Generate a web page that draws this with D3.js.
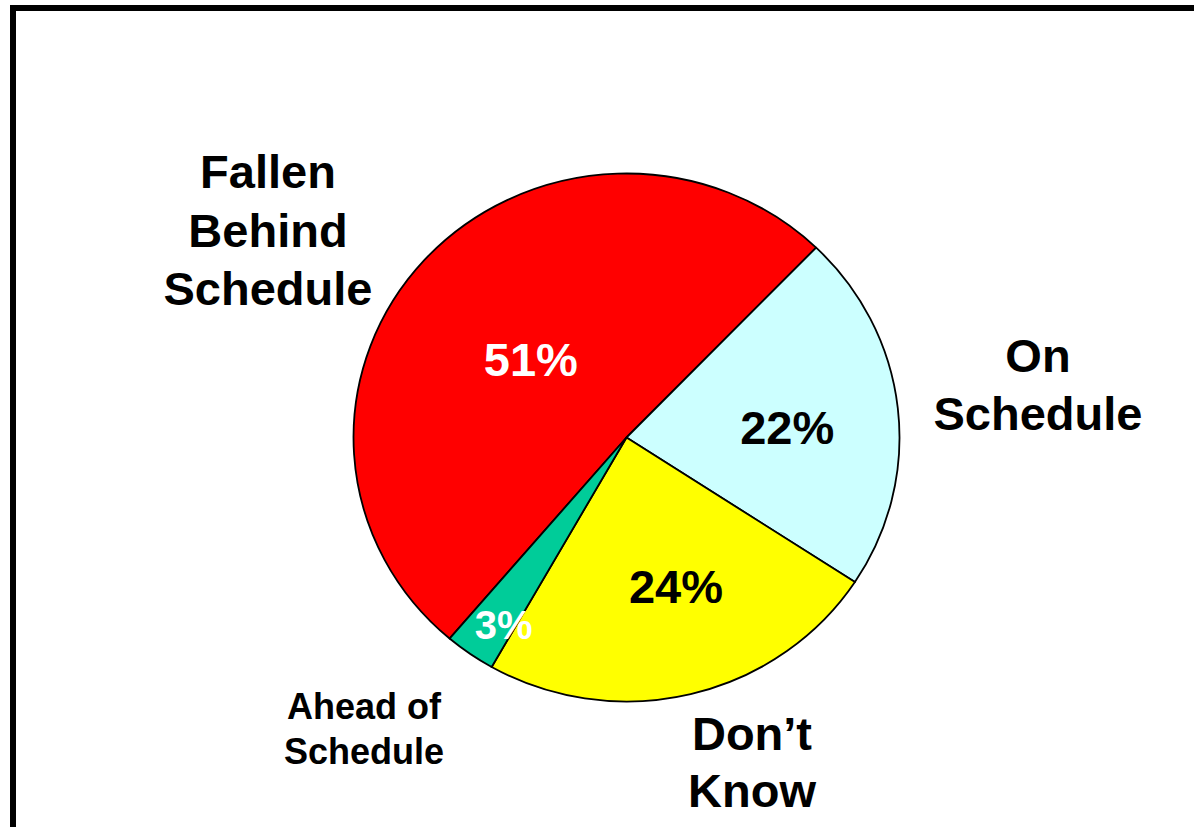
<!DOCTYPE html>
<html>
<head>
<meta charset="utf-8">
<script src="https://cdn.jsdelivr.net/npm/d3@7"></script>
<style>
  html, body { margin: 0; padding: 0; background: #fff; }
  svg { display: block; }
  text { font-family: "Liberation Sans", Arial, sans-serif; font-weight: bold; }
</style>
</head>
<body>
<svg id="chart" width="1194" height="827"></svg>
<script>
// Survey: status of projects relative to schedule
const categories = ["Fallen Behind Schedule", "On Schedule", "Don\u2019t Know", "Ahead of Schedule"];
const values = [51, 22, 24, 3];
const valueLabels = ["51%", "22%", "24%", "3%"];
const categoryLines = [["Fallen", "Behind", "Schedule"], ["On", "Schedule"], ["Don\u2019t", "Know"], ["Ahead of", "Schedule"]];

// Styling
const colors = ["#FF0000", "#CCFFFF", "#FFFF00", "#00CC99"];
const valueColors = ["#FFFFFF", "#000000", "#000000", "#FFFFFF"];
const valueFont = [47, 47, 47, 40];
const valueRadius = [0.46, 0.59, 0.59, 0.84];
const valueAngleShift = [-1.8, 2.5, -4.3, -2.6]; // degrees from slice mid-angle
const catFont = [47, 47, 47, 36];
const catLineGap = [58.5, 58, 57, 44.5];
// Anchor (centre x, first baseline y) of each category caption
const catAnchor = [[268, 188], [1038, 372], [752, 750], [364, 719]];

const svg = d3.select("#chart");

// Frame
svg.append("rect")
  .attr("x", 13).attr("y", 8)
  .attr("width", 1400).attr("height", 1000)
  .attr("fill", "none").attr("stroke", "#000").attr("stroke-width", 6);

const cx = 626.5, cy = 437.5, r = 264, sx = 273 / 264;
const rad = Math.PI / 180;

const pie = d3.pie().sort(null).value(d => d)
  .startAngle(-139.6 * rad)
  .endAngle((360 - 139.6) * rad);
const arcs = pie(values);
const arc = d3.arc().innerRadius(0).outerRadius(r);

const g = svg.append("g").attr("transform", `translate(${cx},${cy}) scale(${sx},1)`);
g.selectAll("path").data(arcs).join("path")
  .attr("d", arc)
  .attr("fill", (d, i) => colors[i])
  .attr("stroke", "#000")
  .attr("stroke-width", 1.8)
  .attr("vector-effect", "non-scaling-stroke")
  .attr("stroke-linejoin", "round");

// Percentage labels inside slices
const labelAngle = (d, i) => (d.startAngle + d.endAngle) / 2 + valueAngleShift[i] * rad;
svg.selectAll("text.val").data(arcs).join("text")
  .attr("class", "val")
  .attr("x", (d, i) => cx + Math.sin(labelAngle(d, i)) * r * valueRadius[i] * sx)
  .attr("y", (d, i) => cy - Math.cos(labelAngle(d, i)) * r * valueRadius[i])
  .attr("dy", "0.36em")
  .attr("text-anchor", "middle")
  .attr("font-size", (d, i) => valueFont[i])
  .attr("fill", (d, i) => valueColors[i])
  .text((d, i) => valueLabels[i]);

// Category captions
categories.forEach((c, i) => {
  const t = svg.append("text")
    .attr("text-anchor", "middle")
    .attr("font-size", catFont[i])
    .attr("fill", "#000");
  categoryLines[i].forEach((line, j) => {
    t.append("tspan")
      .attr("x", catAnchor[i][0])
      .attr("y", catAnchor[i][1] + j * catLineGap[i])
      .text(line);
  });
});
</script>
</body>
</html>
